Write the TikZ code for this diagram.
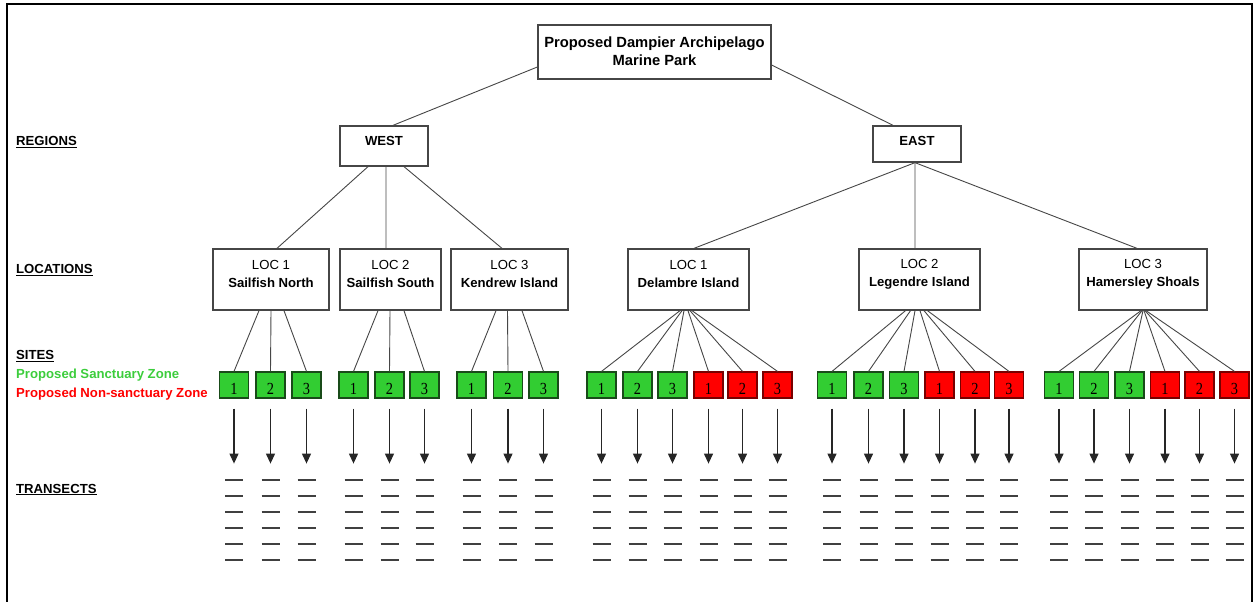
\documentclass[tikz,border=0pt]{standalone}
\usepackage{fontspec}
\setmainfont{Liberation Sans}
\newfontfamily\serifnum[FakeStretch=0.85]{Liberation Serif}
\usetikzlibrary{arrows.meta}
\definecolor{sgreen}{RGB}{50,205,50}
\definecolor{sred}{RGB}{255,0,0}
\definecolor{gborder}{RGB}{25,75,25}
\definecolor{rborder}{RGB}{120,0,0}
\definecolor{lblgreen}{RGB}{60,205,60}
\definecolor{linegray}{RGB}{70,70,70}
\begin{document}
\begin{tikzpicture}[x=1bp,y=-1bp,
  box/.style={draw=linegray, line width=1.3bp, fill=white, inner sep=0},
  btxt/.style={align=center, inner sep=0, font=\bfseries\fontsize{13.2}{18}\selectfont},
  ttxt/.style={align=center, inner sep=0, font=\fontsize{13.2}{18}\selectfont},
  link/.style={draw=linegray, line width=0.9bp},
  gsite/.style={draw=gborder, fill=sgreen, line width=1.2bp, minimum width=29bp, minimum height=26bp, inner sep=0,
     text height=18bp, text depth=0bp, font=\serifnum\fontsize{17}{17}\selectfont},
  rsite/.style={gsite, draw=rborder, fill=sred},
  arr/.style={draw=black!85, line width=1.2bp, -{Triangle[length=10bp,width=9bp]}},
  tr/.style={draw=black!75, line width=1.3bp},
  lbl/.style={anchor=base west, inner sep=0, font=\bfseries\fontsize{13.2}{15}\selectfont},
]
\useasboundingbox (0,0) rectangle (1255,602);
% frame
\draw[line width=2bp] (7,602) -- (7,4) -- (1252,4) -- (1252,602);

% left labels
\node[lbl] (lreg) at (16,146) {\underline{REGIONS}};
\node[lbl] (lloc) at (16,274) {\underline{LOCATIONS}};
\node[lbl] (lsite) at (16,360) {\underline{SITES}};
\node[lbl, text=lblgreen] (lsanc) at (16,378) {Proposed Sanctuary Zone};
\node[lbl, text=sred] (lnon) at (16,397) {Proposed Non-sanctuary Zone};
\node[lbl] (ltr) at (16,493) {\underline{TRANSECTS}};

% top
\node[box, minimum width=233bp, minimum height=54bp] (top) at (654.5,52) {};
\node[btxt, font=\bfseries\fontsize{14.8}{18}\selectfont] (toptxt) at (654.5,51.5) {Proposed Dampier Archipelago\\Marine Park};

% regions
\node[box, minimum width=88bp, minimum height=40bp] (west) at (384,146) {};
\node[btxt] (westtxt) at (384,141) {WEST};
\node[box, minimum width=88bp, minimum height=36bp] (east) at (917,144) {};
\node[btxt] (easttxt) at (917,141) {EAST};

\draw[link] ([yshift=-15bp]top.west) -- ([xshift=9bp]west.north);
\draw[link] ([yshift=-13bp]top.east) -- ([xshift=-24bp]east.north);

% locations
\foreach \n/\x/\w/\a/\b in {wl1/271/116/LOC 1/Sailfish North, wl2/390.5/101/LOC 2/Sailfish South, wl3/509.5/117/LOC 3/Kendrew Island,
   el1/688.5/121/LOC 1/Delambre Island, el2/919.5/121/LOC 2/Legendre Island, el3/1143/128/LOC 3/Hamersley Shoals} {
  \node[box, minimum width=\w bp, minimum height=61bp] (\n) at (\x,279.5) {};
  \node[ttxt] (\n t) at (\x,274) {\a\\\textbf{\b}};
}

\draw[link] ([xshift=-16bp]west.south) -- ([xshift=6bp]wl1.north);
\draw[link] ([xshift=2bp]west.south) -- ([xshift=-4.5bp]wl2.north);
\draw[link] ([xshift=20bp]west.south) -- ([xshift=-7.5bp]wl3.north);

\draw[link] ([xshift=-2bp]east.south) -- ([xshift=5.5bp]el1.north);
\draw[link] ([xshift=-2bp]east.south) -- ([xshift=-4.5bp]el2.north);
\draw[link] ([xshift=-2bp]east.south) -- ([xshift=-6bp]el3.north);

% sites
\foreach \p/\x/\s/\n/\o [count=\i] in {
   wl1/234/gsite/1/-12, wl1/270.5/gsite/2/0, wl1/306.5/gsite/3/13,
   wl2/353.5/gsite/1/-12.5, wl2/389.5/gsite/2/-0.5, wl2/424.5/gsite/3/13.5,
   wl3/471.5/gsite/1/-13.5, wl3/508/gsite/2/-2, wl3/543.5/gsite/3/12.5,
   el1/601.5/gsite/1/-8.5, el1/637.5/gsite/2/-6.5, el1/672.5/gsite/3/-4.5,
   el1/708.5/rsite/1/-0.5, el1/742.5/rsite/2/1.5, el1/777.5/rsite/3/3.5,
   el2/832/gsite/1/-14, el2/868.5/gsite/2/-9, el2/904/gsite/3/-4.5,
   el2/939.5/rsite/1/0.5, el2/975/rsite/2/4.5, el2/1009/rsite/3/8,
   el3/1059/gsite/1/-2, el3/1094/gsite/2/-1, el3/1129.5/gsite/3/0,
   el3/1165/rsite/1/1, el3/1199.5/rsite/2/2, el3/1234.5/rsite/3/3} {
  \node[\s] (s\i) at (\x,385) {\n};
  \draw[link] ([xshift=\o bp]\p.south) -- (s\i.north);
  \draw[arr] ([yshift=-10bp]s\i.south) -- ++(0,55);
  \foreach \k in {0,...,5} {
    \draw[tr] ({\x-9},{480+16*\k}) -- ({\x+9},{480+16*\k});
  }
}
\end{tikzpicture}
\end{document}
